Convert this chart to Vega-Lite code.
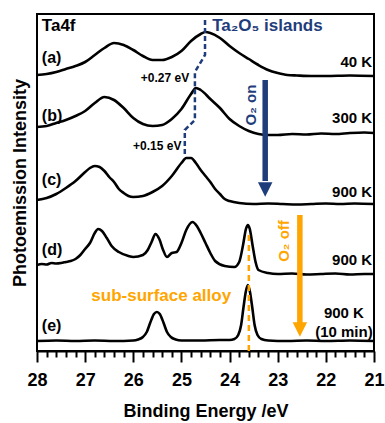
{
  "$schema": "https://vega.github.io/schema/vega-lite/v6.json",
  "width": 337,
  "height": 337,
  "autosize": {"type": "none"},
  "padding": {"left": 37, "top": 14, "right": 11, "bottom": 72},
  "config": {
    "view": {"stroke": "black", "strokeWidth": 2},
    "font": "Liberation Sans",
    "text": {"font": "Liberation Sans", "fontWeight": "bold"}
  },
  "datasets": {
    "spectra": [
      {"s":"a","be":28.0,"v":276},{"s":"a","be":27.8,"v":277},{"s":"a","be":27.6,"v":279},{"s":"a","be":27.4,"v":282},{"s":"a","be":27.2,"v":285},{"s":"a","be":27.0,"v":289},{"s":"a","be":26.8,"v":296},{"s":"a","be":26.6,"v":303},{"s":"a","be":26.4,"v":308},{"s":"a","be":26.2,"v":306},{"s":"a","be":26.0,"v":301},{"s":"a","be":25.8,"v":295},{"s":"a","be":25.6,"v":291},{"s":"a","be":25.4,"v":291},{"s":"a","be":25.2,"v":294},{"s":"a","be":25.0,"v":300},{"s":"a","be":24.8,"v":310},{"s":"a","be":24.6,"v":317},{"s":"a","be":24.5,"v":319},{"s":"a","be":24.4,"v":318},{"s":"a","be":24.2,"v":313},{"s":"a","be":24.0,"v":305},{"s":"a","be":23.8,"v":298},{"s":"a","be":23.6,"v":292},{"s":"a","be":23.4,"v":286},{"s":"a","be":23.2,"v":281},{"s":"a","be":23.0,"v":278},{"s":"a","be":22.8,"v":276},{"s":"a","be":22.6,"v":275.5},{"s":"a","be":22.3,"v":275},{"s":"a","be":22.0,"v":275},{"s":"a","be":21.5,"v":275.5},{"s":"a","be":21.0,"v":275},
      {"s":"b","be":28.0,"v":224},{"s":"b","be":27.8,"v":225},{"s":"b","be":27.6,"v":228},{"s":"b","be":27.4,"v":231},{"s":"b","be":27.2,"v":235},{"s":"b","be":27.0,"v":240},{"s":"b","be":26.8,"v":248},{"s":"b","be":26.6,"v":254},{"s":"b","be":26.4,"v":251},{"s":"b","be":26.2,"v":243},{"s":"b","be":26.0,"v":233},{"s":"b","be":25.8,"v":227},{"s":"b","be":25.6,"v":225},{"s":"b","be":25.4,"v":226},{"s":"b","be":25.2,"v":232},{"s":"b","be":25.0,"v":242},{"s":"b","be":24.8,"v":257},{"s":"b","be":24.7,"v":263},{"s":"b","be":24.6,"v":261},{"s":"b","be":24.4,"v":252},{"s":"b","be":24.2,"v":243},{"s":"b","be":24.0,"v":232},{"s":"b","be":23.8,"v":225},{"s":"b","be":23.6,"v":220},{"s":"b","be":23.4,"v":217},{"s":"b","be":23.2,"v":216},{"s":"b","be":23.0,"v":216},{"s":"b","be":22.7,"v":217},{"s":"b","be":22.4,"v":216.5},{"s":"b","be":22.1,"v":217.5},{"s":"b","be":21.8,"v":217},{"s":"b","be":21.5,"v":218},{"s":"b","be":21.2,"v":218.5},{"s":"b","be":21.0,"v":218},
      {"s":"c","be":28.0,"v":151},{"s":"c","be":27.8,"v":153},{"s":"c","be":27.6,"v":157},{"s":"c","be":27.4,"v":163},{"s":"c","be":27.2,"v":170},{"s":"c","be":27.0,"v":179},{"s":"c","be":26.9,"v":183},{"s":"c","be":26.8,"v":185},{"s":"c","be":26.7,"v":184},{"s":"c","be":26.6,"v":180},{"s":"c","be":26.5,"v":174},{"s":"c","be":26.4,"v":169},{"s":"c","be":26.3,"v":162},{"s":"c","be":26.2,"v":158},{"s":"c","be":26.1,"v":155},{"s":"c","be":26.0,"v":154},{"s":"c","be":25.8,"v":155},{"s":"c","be":25.6,"v":159},{"s":"c","be":25.4,"v":165},{"s":"c","be":25.2,"v":175},{"s":"c","be":25.0,"v":188},{"s":"c","be":24.9,"v":193},{"s":"c","be":24.8,"v":193},{"s":"c","be":24.7,"v":188},{"s":"c","be":24.6,"v":181},{"s":"c","be":24.5,"v":175},{"s":"c","be":24.4,"v":169},{"s":"c","be":24.3,"v":162},{"s":"c","be":24.2,"v":157},{"s":"c","be":24.1,"v":152},{"s":"c","be":24.0,"v":150},{"s":"c","be":23.8,"v":148},{"s":"c","be":23.5,"v":147},{"s":"c","be":23.2,"v":147.5},{"s":"c","be":22.9,"v":147},{"s":"c","be":22.6,"v":146.5},{"s":"c","be":22.3,"v":147},{"s":"c","be":22.0,"v":147.5},{"s":"c","be":21.7,"v":147},{"s":"c","be":21.4,"v":147.5},{"s":"c","be":21.0,"v":147},
      {"s":"d","be":28.0,"v":86},{"s":"d","be":27.9,"v":87},{"s":"d","be":27.8,"v":86.5},{"s":"d","be":27.7,"v":88},{"s":"d","be":27.6,"v":87.5},{"s":"d","be":27.5,"v":88},{"s":"d","be":27.4,"v":89},{"s":"d","be":27.3,"v":90},{"s":"d","be":27.2,"v":92},{"s":"d","be":27.1,"v":96},{"s":"d","be":27.0,"v":102},{"s":"d","be":26.9,"v":108},{"s":"d","be":26.8,"v":118},{"s":"d","be":26.73,"v":122},{"s":"d","be":26.65,"v":120},{"s":"d","be":26.55,"v":113},{"s":"d","be":26.45,"v":105},{"s":"d","be":26.3,"v":99},{"s":"d","be":26.1,"v":95},{"s":"d","be":26.0,"v":94},{"s":"d","be":25.8,"v":96},{"s":"d","be":25.7,"v":101},{"s":"d","be":25.62,"v":109},{"s":"d","be":25.54,"v":117},{"s":"d","be":25.46,"v":112},{"s":"d","be":25.38,"v":101},{"s":"d","be":25.3,"v":94},{"s":"d","be":25.2,"v":98},{"s":"d","be":25.1,"v":99},{"s":"d","be":25.0,"v":108},{"s":"d","be":24.9,"v":121},{"s":"d","be":24.77,"v":129},{"s":"d","be":24.68,"v":125},{"s":"d","be":24.6,"v":118},{"s":"d","be":24.5,"v":108},{"s":"d","be":24.4,"v":98},{"s":"d","be":24.3,"v":90},{"s":"d","be":24.1,"v":85},{"s":"d","be":23.9,"v":84},{"s":"d","be":23.8,"v":89},{"s":"d","be":23.72,"v":106},{"s":"d","be":23.66,"v":122},{"s":"d","be":23.62,"v":126},{"s":"d","be":23.58,"v":122},{"s":"d","be":23.52,"v":105},{"s":"d","be":23.46,"v":89},{"s":"d","be":23.4,"v":81},{"s":"d","be":23.2,"v":78},{"s":"d","be":23.0,"v":77},{"s":"d","be":22.7,"v":77.5},{"s":"d","be":22.4,"v":76.5},{"s":"d","be":22.1,"v":77},{"s":"d","be":21.8,"v":77.5},{"s":"d","be":21.5,"v":76.5},{"s":"d","be":21.2,"v":77},{"s":"d","be":21.0,"v":77},
      {"s":"e","be":28.0,"v":10},{"s":"e","be":27.6,"v":10.5},{"s":"e","be":27.2,"v":10},{"s":"e","be":26.8,"v":10.5},{"s":"e","be":26.4,"v":10},{"s":"e","be":26.0,"v":10.5},{"s":"e","be":25.9,"v":11.5},{"s":"e","be":25.8,"v":14},{"s":"e","be":25.72,"v":19},{"s":"e","be":25.65,"v":28},{"s":"e","be":25.57,"v":37},{"s":"e","be":25.51,"v":39},{"s":"e","be":25.45,"v":37},{"s":"e","be":25.37,"v":28},{"s":"e","be":25.3,"v":19},{"s":"e","be":25.22,"v":14},{"s":"e","be":25.12,"v":11.5},{"s":"e","be":25.0,"v":10.5},{"s":"e","be":24.6,"v":10.5},{"s":"e","be":24.2,"v":11},{"s":"e","be":24.0,"v":11},{"s":"e","be":23.9,"v":12},{"s":"e","be":23.82,"v":16},{"s":"e","be":23.76,"v":26},{"s":"e","be":23.71,"v":44},{"s":"e","be":23.66,"v":60},{"s":"e","be":23.62,"v":66},{"s":"e","be":23.58,"v":60},{"s":"e","be":23.53,"v":44},{"s":"e","be":23.48,"v":26},{"s":"e","be":23.42,"v":16},{"s":"e","be":23.34,"v":12},{"s":"e","be":23.2,"v":10.5},{"s":"e","be":22.8,"v":10},{"s":"e","be":22.4,"v":10.5},{"s":"e","be":22.0,"v":10},{"s":"e","be":21.5,"v":10.5},{"s":"e","be":21.0,"v":10}
    ],
    "oxide": [
      {"i":1,"be":24.51,"v":331},{"i":2,"be":24.51,"v":296},{"i":3,"be":24.72,"v":279},{"i":4,"be":24.72,"v":231},{"i":5,"be":24.93,"v":221},{"i":6,"be":24.93,"v":194}
    ],
    "arrows": [
      {"kind":"on","be":23.26,"v":271,"v2":170},{"kind":"off","be":22.54,"v":136,"v2":28}
    ],
    "heads": [
      {"kind":"on","be":23.26,"v":161.5},{"kind":"off","be":22.54,"v":21.5}
    ]
  },
  "encoding": {
    "x": {
      "field": "be", "type": "quantitative",
      "scale": {"domain": [21, 28], "reverse": true, "nice": false, "zero": false},
      "axis": {
        "title": "Binding Energy /eV",
        "values": [21,21.2,21.4,21.6,21.8,22,22.2,22.4,22.6,22.8,23,23.2,23.4,23.6,23.8,24,24.2,24.4,24.6,24.8,25,25.2,25.4,25.6,25.8,26,26.2,26.4,26.6,26.8,27,27.2,27.4,27.6,27.8,28],
        "labelExpr": "abs(datum.value - round(datum.value)) < 0.01 ? format(datum.value, 'd') : ''",
        "tickSize": {"condition": {"test": "abs(datum.value - round(datum.value)) < 0.01", "value": 11}, "value": 6},
        "tickWidth": 2, "tickColor": "black",
        "domainColor": "black", "domainWidth": 2,
        "labelFont": "Liberation Sans", "labelFontSize": 18, "labelFontWeight": "bold", "labelColor": "black",
        "labelPadding": 9, "labelOverlap": false, "labelFlush": false, "labelBound": false,
        "titleFont": "Liberation Sans", "titleFontSize": 18, "titleFontWeight": "bold", "titleColor": "black",
        "titlePadding": 13, "grid": false
      }
    },
    "y": {
      "field": "v", "type": "quantitative",
      "scale": {"domain": [0, 337], "nice": false, "zero": false},
      "axis": {
        "title": "Photoemission Intensity",
        "ticks": false, "labels": false, "domain": false, "grid": false,
        "titleFont": "Liberation Sans", "titleFontSize": 18, "titleFontWeight": "bold", "titleColor": "black",
        "titlePadding": 8
      }
    }
  },
  "layer": [
    {
      "data": {"name": "spectra"},
      "mark": {"type": "line", "color": "black", "strokeWidth": 2.6, "interpolate": "monotone"},
      "encoding": {"detail": {"field": "s"}}
    },
    {
      "data": {"name": "oxide"},
      "mark": {"type": "line", "color": "#1F3D7A", "strokeWidth": 2.5, "strokeDash": [5, 3]},
      "encoding": {"order": {"field": "i", "type": "quantitative"}}
    },
    {
      "data": {"values": [{"be": 23.6, "v": 116, "v2": 0}]},
      "mark": {"type": "rule", "color": "#FFA500", "strokeWidth": 2.5, "strokeDash": [6, 4]},
      "encoding": {"y2": {"field": "v2"}}
    },
    {
      "data": {"name": "arrows"},
      "mark": {"type": "rule", "strokeWidth": 5.5},
      "encoding": {
        "y2": {"field": "v2"},
        "color": {"field": "kind", "type": "nominal", "scale": {"domain": ["on", "off"], "range": ["#1F3D7A", "#FFA500"]}, "legend": null}
      }
    },
    {
      "data": {"name": "heads"},
      "mark": {"type": "point", "shape": "M -1 -1 L 1 -1 L 0 1 Z", "filled": true, "opacity": 1, "size": 210, "strokeWidth": 0},
      "encoding": {
        "color": {"field": "kind", "type": "nominal", "scale": {"domain": ["on", "off"], "range": ["#1F3D7A", "#FFA500"]}, "legend": null}
      }
    },
    {
      "data": {"values": [{"t": "Ta4f", "be": 27.9, "v": 325}]},
      "mark": {"type": "text", "align": "left", "baseline": "middle", "fontSize": 17, "color": "black"},
      "encoding": {"text": {"field": "t"}}
    },
    {
      "data": {"values": [{"t": "(a)", "be": 27.9, "v": 293}, {"t": "(b)", "be": 27.9, "v": 235}, {"t": "(c)", "be": 27.9, "v": 171}, {"t": "(d)", "be": 27.9, "v": 101}, {"t": "(e)", "be": 27.9, "v": 25}]},
      "mark": {"type": "text", "align": "left", "baseline": "middle", "fontSize": 16, "color": "black"},
      "encoding": {"text": {"field": "t"}}
    },
    {
      "data": {"values": [{"t": "40 K", "be": 21.04, "v": 289}, {"t": "300 K", "be": 21.04, "v": 233}, {"t": "900 K", "be": 21.04, "v": 159}, {"t": "900 K", "be": 21.04, "v": 91}]},
      "mark": {"type": "text", "align": "right", "baseline": "middle", "fontSize": 15, "color": "black"},
      "encoding": {"text": {"field": "t"}}
    },
    {
      "data": {"values": [{"t": "900 K", "be": 21.625, "v": 38}, {"t": "(10 min)", "be": 21.625, "v": 19}]},
      "mark": {"type": "text", "align": "center", "baseline": "middle", "fontSize": 15, "color": "black"},
      "encoding": {"text": {"field": "t"}}
    },
    {
      "data": {"values": [{"t": "+0.27 eV", "be": 24.84, "v": 273}, {"t": "+0.15 eV", "be": 25.0, "v": 205}]},
      "mark": {"type": "text", "align": "right", "baseline": "middle", "fontSize": 12, "color": "black"},
      "encoding": {"text": {"field": "t"}}
    },
    {
      "data": {"values": [{"t": "Ta₂O₅ islands", "be": 24.36, "v": 325}]},
      "mark": {"type": "text", "align": "left", "baseline": "middle", "fontSize": 17, "color": "#1F3D7A"},
      "encoding": {"text": {"field": "t"}}
    },
    {
      "data": {"values": [{"t": "O₂ on", "be": 23.56, "v": 246}]},
      "mark": {"type": "text", "align": "center", "baseline": "middle", "fontSize": 15, "angle": 270, "color": "#1F3D7A"},
      "encoding": {"text": {"field": "t"}}
    },
    {
      "data": {"values": [{"t": "O₂ off", "be": 22.86, "v": 110}]},
      "mark": {"type": "text", "align": "center", "baseline": "middle", "fontSize": 15, "angle": 270, "color": "#FFA500"},
      "encoding": {"text": {"field": "t"}}
    },
    {
      "data": {"values": [{"t": "sub-surface alloy", "be": 25.42, "v": 55}]},
      "mark": {"type": "text", "align": "center", "baseline": "middle", "fontSize": 17, "color": "#FFA500"},
      "encoding": {"text": {"field": "t"}}
    }
  ]
}
